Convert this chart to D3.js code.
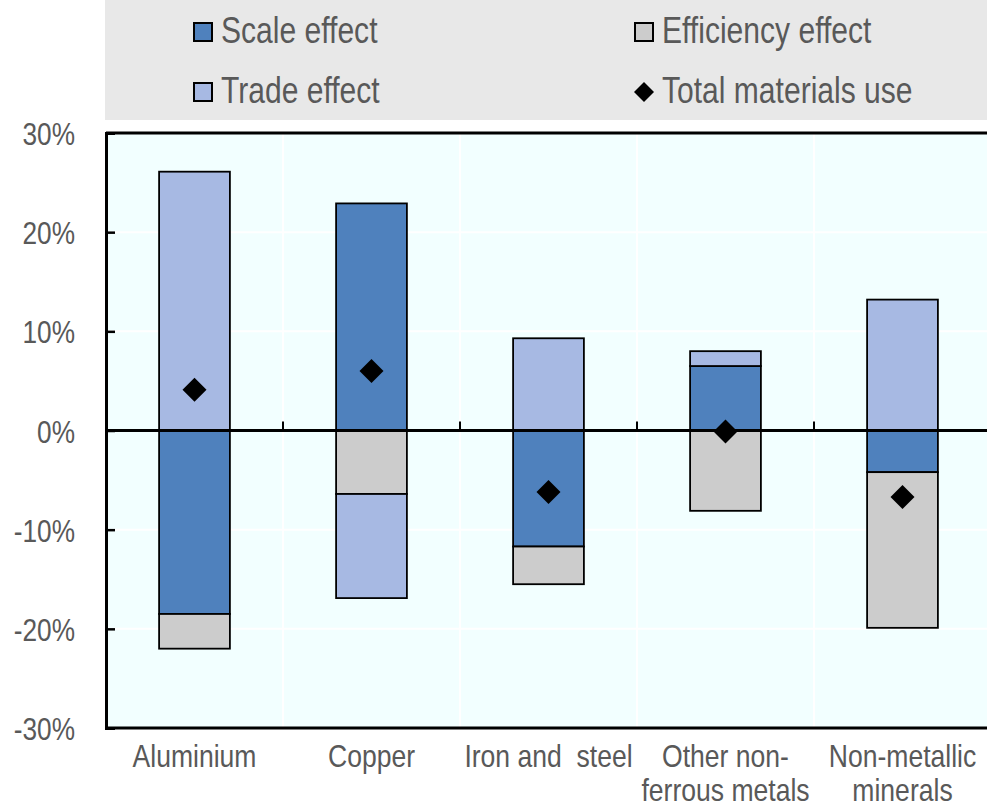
<!DOCTYPE html>
<html><head><meta charset="utf-8">
<script src="https://cdn.jsdelivr.net/npm/d3@7"></script>
<style>
html,body{margin:0;padding:0;background:#fff;}
text{font-family:"Liberation Sans",Arial,sans-serif;fill:#595959;}
</style></head>
<body>
<svg id="c" width="987" height="810"></svg>
<script>
const categories = ["Aluminium","Copper","Iron and  steel","Other non-ferrous metals","Non-metallic minerals"];
const categoryLines = [["Aluminium"],["Copper"],["Iron and  steel"],["Other non-","ferrous metals"],["Non-metallic","minerals"]];
const scaleEffect = [-18.5, 22.9, -11.7, 6.5, -4.2];
const efficiencyEffect = [-3.5, -6.4, -3.8, -8.1, -15.7];
const tradeEffect = [26.1, -10.5, 9.3, 1.5, 13.2];
const totalUse = [4.1, 6.0, -6.2, -0.1, -6.7];
const yTicks = [-30, -20, -10, 0, 10, 20, 30];
const seriesKeys = ["scale","efficiency","trade"];
const colors = {scale:"#4F81BD", efficiency:"#CCCCCC", trade:"#A7B9E3"};
const SQ = 0.82; // horizontal condensing of text

const svg = d3.select("#c");
const L = 106, R = 991, T = 133, B = 728;

const x = d3.scaleBand().domain(categories).range([L, R]).paddingInner(0.6).paddingOuter(0.3);
const y = d3.scaleLinear().domain([-30, 30]).range([B, T]);

function ctext(parent, tx, ty, str, size, anchor, sq){
  return parent.append("text")
    .attr("transform",`translate(${tx},${ty}) scale(${sq||SQ},1)`)
    .attr("text-anchor",anchor||"start")
    .attr("font-size",size)
    .style("white-space","pre")
    .text(str);
}

// legend background
svg.append("rect").attr("x",105).attr("y",0).attr("width",882).attr("height",120).attr("fill","#E8E8E8");

// plot background
svg.append("rect").attr("x",L).attr("y",T).attr("width",R-L).attr("height",B-T).attr("fill","#F2FFFF");

// gridlines
svg.append("g").selectAll("line").data(yTicks).join("line")
  .attr("x1",L).attr("x2",R).attr("y1",d=>y(d)).attr("y2",d=>y(d))
  .attr("stroke","#ffffff").attr("stroke-width",2);
const step = x.step();
const bounds = d3.range(1, categories.length).map(i => L + i*step);
svg.append("g").selectAll("line").data(bounds).join("line")
  .attr("x1",d=>d).attr("x2",d=>d).attr("y1",T).attr("y2",B)
  .attr("stroke","#ffffff").attr("stroke-width",2);

// stacked data
const rows = categories.map((c,i)=>({cat:c, scale:scaleEffect[i], efficiency:efficiencyEffect[i], trade:tradeEffect[i]}));
const stack = d3.stack().keys(seriesKeys).offset(d3.stackOffsetDiverging);
const series = stack(rows);

svg.append("g").selectAll("g").data(series).join("g")
  .attr("fill", d=>colors[d.key])
  .selectAll("rect").data(d=>d).join("rect")
  .attr("x", d=>x(d.data.cat))
  .attr("width", x.bandwidth())
  .attr("y", d=>y(Math.max(d[0],d[1])))
  .attr("height", d=>Math.abs(y(d[0])-y(d[1])))
  .attr("stroke","#000").attr("stroke-width",1.8)
  .attr("display", d=>Math.abs(d[1]-d[0])<1e-9?"none":null);

// zero line
svg.append("line").attr("x1",L).attr("x2",R).attr("y1",y(0)).attr("y2",y(0)).attr("stroke","#000").attr("stroke-width",3);
// x ticks at boundaries
svg.append("g").selectAll("line").data(bounds).join("line")
  .attr("x1",d=>d).attr("x2",d=>d).attr("y1",y(0)).attr("y2",y(0)-9)
  .attr("stroke","#000").attr("stroke-width",2);

// frame
svg.append("line").attr("x1",L).attr("x2",R).attr("y1",T).attr("y2",T).attr("stroke","#000").attr("stroke-width",3);
svg.append("line").attr("x1",L).attr("x2",R).attr("y1",B).attr("y2",B).attr("stroke","#000").attr("stroke-width",3);

// y axis
const yAxis = d3.axisLeft(y).tickValues(yTicks).tickFormat(d=>d+"%").tickSize(-9).tickPadding(30);
const ga = svg.append("g").attr("transform",`translate(${L},0)`).call(yAxis);
ga.attr("font-family",null).attr("font-size",null);
ga.select(".domain").attr("stroke","#000").attr("stroke-width",3);
ga.selectAll(".tick line").attr("stroke","#000").attr("stroke-width",2.5);
ga.selectAll(".tick text").attr("font-size",32).attr("fill","#595959")
  .attr("x",null).attr("dy","0.36em").attr("transform",`translate(-31,0) scale(${SQ},1)`);

// diamonds
svg.append("g").selectAll("path").data(totalUse).join("path")
  .attr("d",(d,i)=>{const cx=x(categories[i])+x.bandwidth()/2, cy=y(d), r=12; return `M${cx},${cy-r}L${cx+r},${cy}L${cx},${cy+r}L${cx-r},${cy}Z`;})
  .attr("fill","#000");

// category labels
const lab = svg.append("g");
categories.forEach((c,i)=>{
  categoryLines[i].forEach((ln,j)=>{
    ctext(lab, x(c)+x.bandwidth()/2, 767 + j*34, ln, 32, "middle", 0.83);
  });
});

// legend
const legendItems = [
  {key:"scale", label:"Scale effect", x:193, y:22},
  {key:"efficiency", label:"Efficiency effect", x:634, y:22},
  {key:"trade", label:"Trade effect", x:193, y:82},
  {key:"total", label:"Total materials use", x:634, y:82}
];
const lg = svg.append("g");
legendItems.forEach(it=>{
  if(it.key==="total"){
    const cx=it.x+10, cy=it.y+10, r=10;
    lg.append("path").attr("d",`M${cx},${cy-r}L${cx+r},${cy}L${cx},${cy+r}L${cx-r},${cy}Z`).attr("fill","#000");
  } else {
    lg.append("rect").attr("x",it.x+1).attr("y",it.y+1).attr("width",18).attr("height",18)
      .attr("fill",colors[it.key]).attr("stroke","#000").attr("stroke-width",2);
  }
  ctext(lg, it.x+28, it.y+21, it.label, 36, "start", 0.835);
});
</script>
</body></html>
